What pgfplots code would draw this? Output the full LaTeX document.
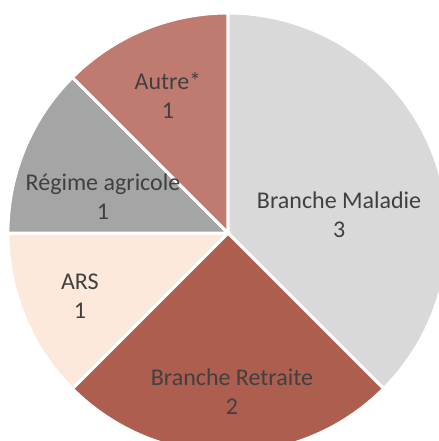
\documentclass[border=0pt]{standalone}
\usepackage{pgfplots}
\pgfplotsset{compat=1.18}
\usepackage{pgfplotstable}
\usepackage{fontspec}
\setmainfont{Carlito}
\definecolor{cMal}{HTML}{D9D9D9}
\definecolor{cRet}{HTML}{AE5E4F}
\definecolor{cARS}{HTML}{FCE9DB}
\definecolor{cReg}{HTML}{A5A5A5}
\definecolor{cAut}{HTML}{BF7B70}
\definecolor{txt}{HTML}{404040}
\pgfplotstableread{
value color lx ly label
3 cMal 0.505 0.082 {Branche Maladie}
2 cRet 0.018 -0.723 {Branche Retraite}
1 cARS -0.673 -0.286 ARS
1 cReg -0.568 0.164 {Régime agricole}
1 cAut -0.273 0.623 {Autre*}
}\data
\begin{document}
\begin{tikzpicture}
\begin{axis}[scale only axis, width=219.5pt, height=220.5pt,
  xmin=-1.036, xmax=0.959, ymin=-0.945, ymax=1.059,
  hide axis, clip=true]
\gdef\startang{90}
\pgfplotsforeachungrouped \i in {0,...,4}{%
  \pgfplotstablegetelem{\i}{value}\of\data \let\v\pgfplotsretval
  \pgfplotstablegetelem{\i}{color}\of\data \let\c\pgfplotsretval
  \pgfmathsetmacro\endang{\startang-360*\v/8}%
  \pgfmathsetmacro\sx{cos(\startang)}%
  \pgfmathsetmacro\sy{sin(\startang)}%
  \edef\temp{\noexpand\fill[\c, draw=white, line width=1.5pt, line join=miter] (axis cs:0,0) -- (axis cs:\sx,\sy) arc[start angle=\startang, end angle=\endang, radius=1] -- cycle;}%
  \temp
  \global\let\startang\endang
}
\pgfplotsforeachungrouped \i in {0,...,4}{%
  \pgfplotstablegetelem{\i}{value}\of\data \let\v\pgfplotsretval
  \pgfplotstablegetelem{\i}{lx}\of\data \let\lx\pgfplotsretval
  \pgfplotstablegetelem{\i}{ly}\of\data \let\ly\pgfplotsretval
  \pgfplotstablegetelem{\i}{label}\of\data \let\lab\pgfplotsretval
  \edef\temp{\noexpand\node[align=center, text=txt, font=\noexpand\fontsize{12}{14.5}\noexpand\selectfont] at (axis cs:\lx,\ly) {\lab\noexpand\\\v};}%
  \temp
}
\end{axis}
\pgfresetboundingbox
\path[use as bounding box] (current axis.south west) rectangle (current axis.north east);
\end{tikzpicture}
\end{document}
